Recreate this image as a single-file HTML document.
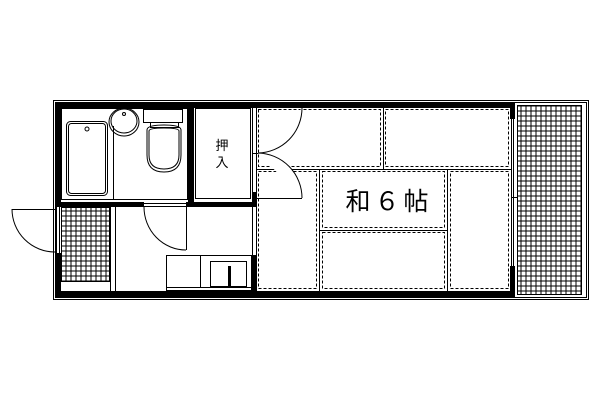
<!DOCTYPE html>
<html><head><meta charset="utf-8"><style>body{margin:0;background:#fff}svg{display:block}</style></head><body>
<svg width="600" height="400" viewBox="0 0 600 400" xmlns="http://www.w3.org/2000/svg" fill="none" stroke="#000" stroke-width="1">
<defs>
<pattern id="g" x="0.5" y="0.5" width="5" height="5" patternUnits="userSpaceOnUse"><path d="M0 0.5H5M0.5 0V5" stroke="#000" stroke-width="1" shape-rendering="crispEdges"/></pattern>
</defs>
<!-- outer thin border -->
<rect x="53.5" y="100.5" width="535" height="199"/>
<rect x="55.5" y="102.5" width="531" height="195"/>
<!-- thick walls -->
<g fill="#000" stroke="none">
<rect x="55" y="103" width="460" height="5"/>
<rect x="55" y="291" width="460" height="6"/>
<rect x="55" y="103" width="6" height="104"/>
<rect x="55" y="253" width="6" height="44"/>
<rect x="188" y="103" width="6" height="104"/>
<rect x="61" y="202" width="83" height="5"/>
<rect x="186" y="202" width="70" height="5"/>
<rect x="252" y="255" width="4" height="37"/>
<rect x="252" y="192" width="4" height="15"/>
<rect x="510" y="103" width="5" height="16"/>
<rect x="510" y="266" width="5" height="31"/>
</g>
<!-- wall openings -->
<path d="M144 203.5H186M144 206.5H186M56.5 207V253M59.5 207V253"/>
<path d="M511.5 119V266M513.5 119V266"/>
<!-- bathroom -->
<rect x="61.5" y="108.5" width="126" height="91"/>
<rect x="66.5" y="121.5" width="41" height="74" rx="4"/>
<rect x="68.5" y="123.5" width="37" height="70" rx="3"/>
<circle cx="87" cy="129" r="2"/>
<path d="M113.5 126V199"/>
<ellipse cx="124" cy="122" rx="15" ry="14"/>
<ellipse cx="124" cy="121" rx="13" ry="12"/>
<circle cx="124" cy="114" r="1.5"/>
<rect x="143.5" y="109.5" width="39" height="13"/>
<rect x="150.5" y="122.5" width="28" height="5"/>
<path d="M147 130Q147 125 164 125Q181 125 181 130V155Q181 172 164 172Q147 172 147 155Z"/>
<path d="M149 131Q149 128 164 128Q179 128 179 131V155Q179 169 164 169Q149 169 149 155Z"/>
<!-- closet -->
<rect x="195.5" y="108.5" width="55" height="90"/>
<text x="222" y="150" font-family="Liberation Sans, Noto Sans CJK JP, sans-serif" font-size="13" fill="#000" stroke="none" text-anchor="middle">押</text>
<text x="222" y="167" font-family="Liberation Sans, Noto Sans CJK JP, sans-serif" font-size="13" fill="#000" stroke="none" text-anchor="middle">入</text>
<path d="M252.5 108V292M256.5 108V292"/>
<!-- entrance -->
<rect x="61" y="207" width="49" height="75" fill="url(#g)" stroke="none"/>
<rect x="61.5" y="207.5" width="48" height="74"/>
<path d="M110.5 207V291M115.5 207V291"/>
<path d="M12 209.5H55M12 209A43 43 0 0 0 55 252"/>
<!-- bath door -->
<path d="M186.5 207V250M144 207A42 43 0 0 0 186 250"/>
<!-- kitchen -->
<rect x="166.5" y="255.5" width="85" height="35"/>
<path d="M200.5 256V288M167 287.5H251"/>
<rect x="210.5" y="261.5" width="36" height="25"/>
<rect x="228" y="266" width="3" height="21" fill="#000" stroke="none"/>
<!-- tatami -->
<path d="M256 169.5H511M383.5 108V169M319.5 169V291M447.5 169V291M319 230.5H447"/>
<g stroke-dasharray="3,2">
<rect x="258.5" y="109.5" width="122" height="57"/>
<rect x="385.5" y="109.5" width="123" height="57"/>
<rect x="258.5" y="171.5" width="58" height="117"/>
<rect x="322.5" y="171.5" width="122" height="56"/>
<rect x="322.5" y="232.5" width="122" height="56"/>
<rect x="450.5" y="171.5" width="58" height="117"/>
</g>
<text x="389" y="210" font-family="Liberation Sans, Noto Sans CJK JP, sans-serif" font-size="25" fill="#000" stroke="none" text-anchor="middle" letter-spacing="4">和６帖</text>
<!-- tatami doors -->
<path d="M253 153.5H258M258 153A45 45 0 0 0 302 108M258 153A45 45 0 0 1 302 198M256 198.5H302" fill="#fff"/>
<!-- balcony -->
<rect x="518" y="106" width="64" height="188" fill="url(#g)" stroke="none"/>
<rect x="517.5" y="105.5" width="64" height="189"/>
<path d="M512 197.5H518"/>
</svg>
</body></html>
